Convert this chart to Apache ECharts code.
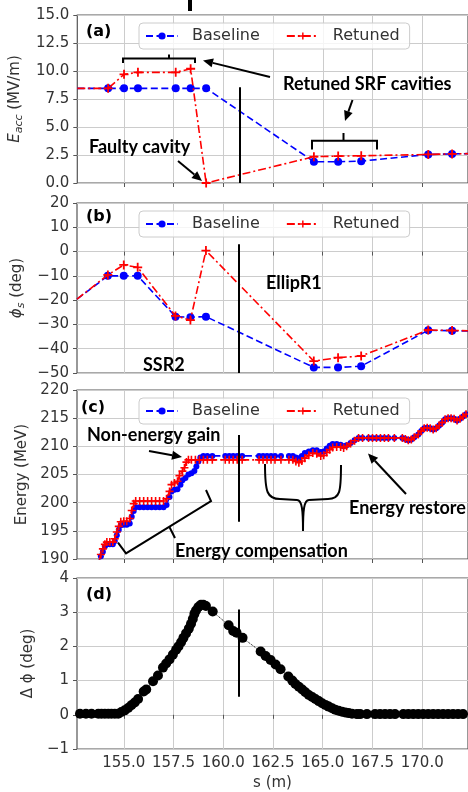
<!DOCTYPE html>
<html>
<head>
<meta charset="utf-8">
<script src="https://cdn.jsdelivr.net/npm/echarts@6/dist/echarts.min.js"></script>
<style>
  html, body { margin: 0; padding: 0; background: #fff; }
  #chart { width: 468px; height: 792px; }
</style>
</head>
<body>
<div id="chart"></div>
<script>
// cavity positions (m); first and last entries are where the lines leave the plot edges
const sCav = [152.65, 154.2, 155.0, 155.7, 157.6, 158.35, 159.13, 164.55, 165.77, 166.93, 170.3, 171.5, 172.3];
const eaccBase = [8.45, 8.45, 8.45, 8.45, 8.45, 8.45, 8.45, 1.9, 1.9, 1.95, 2.55, 2.6, 2.62];
const eaccRet = [8.45, 8.45, 9.7, 9.88, 9.88, 10.2, 0, 2.35, 2.4, 2.43, 2.55, 2.6, 2.62];
const phiBase = [-19.6, -10, -10, -10, -26.8, -27, -26.8, -47.7, -47.7, -47.2, -32.4, -32.6, -32.7];
const phiRet = [-19.6, -9.6, -5.5, -6.5, -26.5, -28.2, 0.4, -45.1, -43.7, -43, -32.3, -32.5, -32.6];

// energy along s, before the two runs merge
const energyBaseHead = [[153.75,189.6],[153.85,190.5],[153.95,191.3],[154.05,192.2],[154.15,192.6],[154.3,192.6],[154.45,192.6],[154.55,193.2],[154.65,194.2],[154.75,195.2],[154.85,196.0],[155.0,196.1],[155.15,196.1],[155.3,196.3],[155.4,197.5],[155.5,198.5],[155.6,199.2],[155.8,199.2],[156.0,199.2],[156.2,199.2],[156.4,199.2],[156.6,199.2],[156.8,199.2],[157.0,199.2],[157.15,199.6],[157.3,201.0],[157.4,202.0],[157.55,202.3],[157.7,202.4],[157.85,203.2],[157.95,204.0],[158.1,204.4],[158.25,205.0],[158.4,205.2],[158.55,205.6],[158.65,206.4],[158.75,207.3],[158.85,208.0],[159.0,208.3],[159.2,208.3],[159.45,208.3],[160.1,208.3],[160.3,208.3],[160.5,208.3],[160.7,208.3],[160.95,208.3],[161.8,208.3],[162.0,208.3],[162.2,208.3],[162.4,208.3],[162.6,208.3],[162.9,208.3],[163.3,208.3],[163.5,208.3],[163.65,208.0],[163.8,207.9],[163.95,208.3],[164.1,208.8],[164.3,209.1],[164.5,209.3],[164.7,209.3],[164.9,209.0],[165.05,209.1],[165.2,209.6],[165.35,210.1],[165.5,210.4],[165.7,210.4],[165.9,210.3],[166.05,210.0],[166.2,210.2],[166.4,210.6],[166.6,211.1]];
const energyRetHead = [[153.75,189.6],[153.85,190.8],[153.95,191.8],[154.05,192.6],[154.15,193.0],[154.3,193.0],[154.45,193.0],[154.55,193.6],[154.65,194.8],[154.75,195.8],[154.85,196.6],[155.0,196.7],[155.15,196.7],[155.3,197.2],[155.4,198.6],[155.5,199.8],[155.6,200.3],[155.8,200.3],[156.0,200.3],[156.2,200.3],[156.4,200.3],[156.6,200.3],[156.8,200.3],[157.0,200.3],[157.15,200.7],[157.3,202.0],[157.4,203.2],[157.55,203.5],[157.7,203.8],[157.8,204.8],[157.95,205.6],[158.05,206.2],[158.15,207.2],[158.25,207.6],[158.4,207.6],[158.6,207.6],[158.8,207.6],[159.0,207.6],[159.2,207.6],[159.45,207.6],[160.1,207.6],[160.3,207.6],[160.5,207.6],[160.7,207.6],[160.95,207.6],[161.8,207.6],[162.0,207.6],[162.2,207.6],[162.4,207.6],[162.6,207.6],[162.9,207.6],[163.3,207.6],[163.5,207.6],[163.65,207.3],[163.8,207.1],[163.95,207.4],[164.1,207.9],[164.3,208.4],[164.5,208.8],[164.7,208.7],[164.9,208.3],[165.05,208.4],[165.2,208.9],[165.35,209.4],[165.5,209.8],[165.7,209.9],[165.9,209.9],[166.05,209.7],[166.2,210.0],[166.4,210.5],[166.6,211.0]];
// shared tail once energy is restored
const energyTail = [[166.8,211.5],[167.0,211.5],[167.3,211.5],[167.5,211.5],[167.7,211.5],[167.9,211.5],[168.1,211.5],[168.3,211.5],[168.6,211.5],[169.0,211.5],[169.15,211.3],[169.3,211.1],[169.45,211.2],[169.6,211.6],[169.8,212.1],[169.95,212.7],[170.1,213.2],[170.25,213.3],[170.4,213.2],[170.55,213.0],[170.7,213.2],[170.85,213.7],[171.0,214.2],[171.15,214.8],[171.3,215.0],[171.45,215.0],[171.6,214.9],[171.75,214.6],[171.9,214.9],[172.05,215.3],[172.2,215.7]];

// phase difference
const sDphi = [152.8,153.1,153.38,153.72,153.88,154.05,154.22,154.38,154.55,154.72,154.88,155.05,155.22,155.38,155.55,155.72,156.0,156.13,156.47,156.72,156.97,157.13,157.3,157.47,157.63,157.75,157.88,158.0,158.13,158.27,158.38,158.47,158.55,158.63,158.75,158.88,159.0,159.13,159.47,160.27,160.5,160.67,160.97,161.88,162.13,162.38,162.63,162.88,163.27,163.47,163.63,163.8,163.97,164.13,164.3,164.47,164.63,164.8,164.97,165.13,165.3,165.47,165.63,165.8,165.97,166.13,166.3,166.47,166.72,166.88,167.22,167.63,167.88,168.13,168.38,168.63,169.05,169.3,169.55,169.8,170.05,170.3,170.55,170.8,171.05,171.3,171.55,171.8,172.05];
const dphi = [0.03,0.03,0.03,0.03,0.03,0.03,0.03,0.03,0.03,0.03,0.08,0.13,0.2,0.28,0.36,0.46,0.68,0.74,0.98,1.15,1.38,1.5,1.62,1.76,1.9,2.0,2.12,2.25,2.38,2.52,2.66,2.8,2.95,3.05,3.15,3.22,3.22,3.18,3.02,2.62,2.45,2.4,2.25,1.85,1.72,1.6,1.47,1.33,1.12,1.0,0.9,0.82,0.74,0.66,0.58,0.52,0.46,0.4,0.34,0.29,0.24,0.19,0.15,0.12,0.09,0.07,0.05,0.03,0.02,0.02,0.02,0.02,0.02,0.02,0.02,0.02,0.02,0.02,0.02,0.02,0.02,0.02,0.02,0.02,0.02,0.02,0.02,0.02,0.02];

const xTicks = [155, 157.5, 160, 162.5, 165, 167.5, 170];
const sepS = 160.8;                       // position of the SSR2 / EllipR1 boundary
const sepSpans = [[8.54, 0], [3.0, -50], [212, 196.6], [3.08, 0.53]];

const chart = echarts.init(document.getElementById('chart'));

const FONT = 'DejaVu Sans';
const TXT = '#333';
const PLUS = 'path://M4,0H6V4H10V6H6V10H4V6H0V4H4Z';
const BLUE = '#0000ff', RED = '#ff0000';

const grids = [
  { top: 15, height: 168 },
  { top: 203, height: 170 },
  { top: 390, height: 169 },
  { top: 578, height: 171 },
];

const yCfg = [
  { min: 0, max: 15, interval: 2.5, dec: 1, gap: 52,
    name: '{i|E}{s|acc} (MV/m)' },
  { min: -50, max: 20, interval: 10, dec: 0, gap: 47, name: '{i|ϕ}{s|s} (deg)' },
  { min: 190, max: 220, interval: 5, dec: 0, gap: 45, name: 'Energy (MeV)' },
  { min: -1, max: 4, interval: 1, dec: 0, gap: 38, name: 'Δ ϕ (deg)' },
];

function fmt(v, d) {
  const s = Math.abs(v).toFixed(d);
  return (v < 0 ? '\u2212' : '') + s;
}

function edgePoints(xs, ys) {
  return xs.map((x, i) => {
    const item = { value: [x, ys[i]] };
    if (i === 0 || i === xs.length - 1) item.symbol = 'none';
    return item;
  });
}

function sepLine(i) {
  return {
    silent: true, symbol: ['none', 'none'], label: { show: false },
    lineStyle: { color: '#000', width: 2, type: 'solid' },
    data: [[{ coord: [sepS, sepSpans[i][0]] }, { coord: [sepS, sepSpans[i][1]] }]],
  };
}

function baseSeries(gi, data, size) {
  return {
    name: 'Baseline', type: 'line', xAxisIndex: gi, yAxisIndex: gi, data,
    symbol: 'circle', symbolSize: size, z: 2,
    itemStyle: { color: BLUE },
    lineStyle: { color: BLUE, width: 1.6, type: [7, 3.5] },
  };
}

function retSeries(gi, data, size) {
  return {
    name: 'Retuned', type: 'line', xAxisIndex: gi, yAxisIndex: gi, data,
    symbol: PLUS, symbolSize: size, z: 3,
    itemStyle: { color: RED },
    lineStyle: { color: RED, width: 1.6, type: [8, 3, 2, 3] },
  };
}

const series = [
  baseSeries(0, edgePoints(sCav, eaccBase), 8),
  Object.assign(retSeries(0, edgePoints(sCav, eaccRet), 9), { markLine: sepLine(0) }),
  baseSeries(1, edgePoints(sCav, phiBase), 8),
  Object.assign(retSeries(1, edgePoints(sCav, phiRet), 9), { markLine: sepLine(1) }),
  baseSeries(2, energyBaseHead.concat(energyTail), 6),
  Object.assign(retSeries(2, energyRetHead.concat(energyTail), 8), { markLine: sepLine(2) }),
  {
    type: 'line', xAxisIndex: 3, yAxisIndex: 3,
    data: sDphi.map((s, i) => [s, dphi[i]]),
    symbol: 'circle', symbolSize: 10,
    itemStyle: { color: '#000' },
    lineStyle: { color: '#000', width: 1, type: 'dotted' },
    markLine: sepLine(3),
  },
];

// annotation helpers (pixel positions)
const ink = '#000';
function seg(x1, y1, x2, y2, w) {
  return { type: 'line', z: 100, shape: { x1, y1, x2, y2 }, style: { stroke: ink, lineWidth: w || 2 } };
}
function arrow(x1, y1, x2, y2) {
  const a = Math.atan2(y2 - y1, x2 - x1), L = 10, W = 4.5;
  const bx = x2 - L * Math.cos(a), by = y2 - L * Math.sin(a);
  const px = -Math.sin(a) * W, py = Math.cos(a) * W;
  return [seg(x1, y1, bx, by, 2),
    { type: 'polygon', z: 100, shape: { points: [[x2, y2], [bx + px, by + py], [bx - px, by - py]] }, style: { fill: ink } }];
}
function poly(points) {
  return { type: 'polyline', z: 100, shape: { points }, style: { stroke: ink, lineWidth: 2, fill: null } };
}
function curve(x1, y1, cpx1, cpy1, cpx2, cpy2, x2, y2) {
  return { type: 'bezierCurve', z: 100, shape: { x1, y1, cpx1, cpy1, cpx2, cpy2, x2, y2 }, style: { stroke: ink, lineWidth: 2, fill: null } };
}
function note(text, x, y, font) {
  return { type: 'text', z: 100, x, y, style: { text, font: font || 'bold 18px Lato', fill: ink, verticalAlign: 'middle', align: 'left' } };
}
const panelFont = 'bold 16px "DejaVu Sans"';

const graphic = [
  { type: 'rect', shape: { x: 188, y: 0, width: 4, height: 11 }, style: { fill: '#000' } },
  note('(a)', 86, 32, panelFont),
  note('(b)', 86, 217, panelFont),
  note('(c)', 81, 408, panelFont),
  note('(d)', 86, 595, panelFont),
  // panel a
  poly([[123, 63], [123, 58.5], [195, 58.5], [195, 63]]),
  seg(169, 58.5, 169, 54.5),
  ...arrow(270, 77, 203, 60.5),
  note('Retuned SRF cavities', 283, 84),
  ...arrow(352.5, 100, 345, 121),
  poly([[312, 149.5], [312, 140.7], [377, 140.7], [377, 149.5]]),
  seg(343.5, 140.7, 343.5, 133),
  note('Faulty cavity', 89, 147),
  ...arrow(178, 161, 202, 181),
  // panel b
  note('EllipR1', 266, 283),
  note('SSR2', 143, 365),
  // panel c
  note('Non-energy gain', 87, 435),
  ...arrow(149, 451, 182, 457),
  poly([[118, 542.7], [126, 553.3], [211, 501], [206, 490]]),
  seg(169.3, 526.8, 175, 538),
  note('Energy compensation', 175, 551),
  curve(265, 464, 265, 492, 267, 499, 280, 499),
  seg(280, 499, 297, 500),
  curve(297, 500, 302, 500, 303, 510, 303, 531),
  curve(303, 531, 303, 510, 304, 500, 309, 500),
  seg(309, 500, 328, 499),
  curve(328, 499, 340, 499, 341, 492, 341, 465),
  note('Energy restore', 349, 508),
  ...arrow(406, 494, 368, 453.5),
];

const legendTops = [23, 211, 398];

chart.setOption({
  animation: false,
  backgroundColor: '#fff',
  grid: grids.map(g => ({
    left: 77, right: -2, top: g.top, height: g.height,
    show: true, borderColor: '#555', borderWidth: 1.2,
  })),
  legend: legendTops.map(top => ({
    left: 139, top, data: ['Baseline', 'Retuned'], selectedMode: false,
    itemWidth: 32, itemHeight: 9, itemGap: 26, padding: [5, 10, 5, 6],
    backgroundColor: 'rgba(255,255,255,0.8)', borderColor: '#cccccc', borderWidth: 1, borderRadius: 4,
    textStyle: { fontFamily: FONT, fontSize: 16, color: TXT, padding: [0, 0, 0, 9] },
  })),
  xAxis: grids.map((g, i) => ({
    type: 'value', gridIndex: i, min: 152.65, max: 172.3,
    axisLine: { show: false },
    axisTick: { show: true, length: 4, customValues: xTicks, lineStyle: { color: '#555' } },
    axisLabel: {
      show: i === 3, customValues: xTicks, margin: 7,
      fontFamily: FONT, fontSize: 15, color: TXT,
      formatter: v => v.toFixed(1),
    },
    splitLine: { show: true, lineStyle: { color: '#cccccc', width: 1 } },
    name: i === 3 ? 's (m)' : '', nameLocation: 'middle', nameGap: 27,
    nameTextStyle: { fontFamily: FONT, fontSize: 15, color: TXT },
  })),
  yAxis: yCfg.map((c, i) => ({
    type: 'value', gridIndex: i, min: c.min, max: c.max, interval: c.interval,
    axisLine: { show: false },
    axisTick: { show: true, length: 4, lineStyle: { color: '#555' } },
    axisLabel: { fontFamily: FONT, fontSize: 15, color: TXT, margin: 8, formatter: v => fmt(v, c.dec) },
    splitLine: { show: true, lineStyle: { color: '#cccccc', width: 1 } },
    name: c.name, nameLocation: 'middle', nameGap: c.gap,
    nameTextStyle: {
      fontFamily: FONT, fontSize: 15, color: TXT,
      rich: {
        i: { fontFamily: FONT, fontSize: 15, fontStyle: 'italic', color: TXT },
        s: { fontFamily: FONT, fontSize: 11, fontStyle: 'italic', color: TXT, padding: [8, 0, 0, 0] },
      },
    },
  })),
  series,
  graphic,
});
</script>
</body>
</html>
